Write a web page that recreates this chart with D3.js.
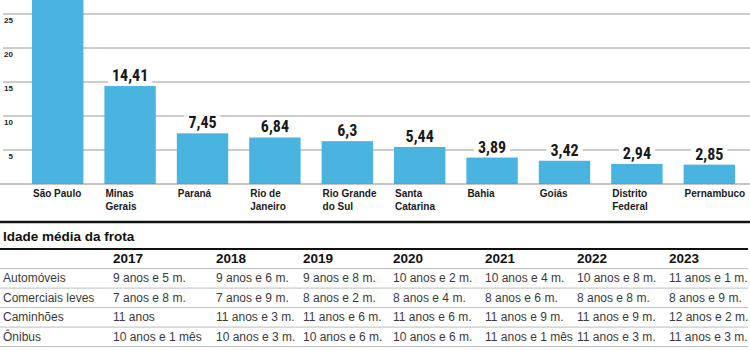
<!DOCTYPE html>
<html>
<head>
<meta charset="utf-8">
<script src="https://cdn.jsdelivr.net/npm/d3@7"></script>
<style>
  html, body { margin: 0; padding: 0; background: #fff; }
  svg { display: block; }
</style>
</head>
<body>
<svg id="chart" width="750" height="350"></svg>
<script>
// ---- Data ----
const states = ["São Paulo", "Minas Gerais", "Paraná", "Rio de Janeiro", "Rio Grande do Sul",
                "Santa Catarina", "Bahia", "Goiás", "Distrito Federal", "Pernambuco"];
const stateLines = [["São Paulo"], ["Minas", "Gerais"], ["Paraná"], ["Rio de", "Janeiro"],
                    ["Rio Grande", "do Sul"], ["Santa", "Catarina"], ["Bahia"], ["Goiás"],
                    ["Distrito", "Federal"], ["Pernambuco"]];
const fleet = [30.4, 14.41, 7.45, 6.84, 6.3, 5.44, 3.89, 3.42, 2.94, 2.85];
const fleetLabels = ["30,4", "14,41", "7,45", "6,84", "6,3", "5,44", "3,89", "3,42", "2,94", "2,85"];
const yTicks = [5, 10, 15, 20, 25];

const tableTitle = "Idade média da frota";
const years = ["2017", "2018", "2019", "2020", "2021", "2022", "2023"];
const vehicleTypes = ["Automóveis", "Comerciais leves", "Caminhões", "Ônibus"];
const ageAutomoveis = ["9 anos e 5 m.", "9 anos e 6 m.", "9 anos e 8 m.", "10 anos e 2 m.", "10 anos e 4 m.", "10 anos e 8 m.", "11 anos e 1 m."];
const ageComerciais = ["7 anos e 8 m.", "7 anos e 9 m.", "8 anos e 2 m.", "8 anos e 4 m.", "8 anos e 6 m.", "8 anos e 8 m.", "8 anos e 9 m."];
const ageCaminhoes = ["11 anos", "11 anos e 3 m.", "11 anos e 6 m.", "11 anos e 6 m.", "11 anos e 9 m.", "11 anos e 9 m.", "12 anos e 2 m."];
const ageOnibus = ["10 anos e 1 mês", "10 anos e 3 m.", "10 anos e 6 m.", "10 anos e 6 m.", "11 anos e 1 mês", "11 anos e 3 m.", "11 anos e 3 m."];
const ageRows = [ageAutomoveis, ageComerciais, ageCaminhoes, ageOnibus];

// ---- Layout ----
const W = 750;
const colX = [113, 216, 303, 393, 485, 577, 669];
const barColor = "#4ab4e1";
const fontMain = "'Liberation Sans', Arial, sans-serif";
const fontNarrow = "'Liberation Sans Narrow', 'Roboto Condensed', 'DejaVu Sans Condensed', 'Liberation Sans', sans-serif";

const svg = d3.select("#chart");

const x = d3.scaleBand().domain(states).range([32, 735]).paddingInner(0.29).paddingOuter(0);
const y = d3.scaleLinear().domain([0, 25]).range([184, 14]);

// gridlines
const grid = svg.append("g");
grid.selectAll("line").data(yTicks).join("line")
  .attr("x1", 3).attr("x2", W)
  .attr("y1", d => y(d)).attr("y2", d => y(d))
  .attr("stroke", "#9a9a9a").attr("stroke-width", 1);
grid.selectAll("text").data(yTicks).join("text")
  .attr("x", 13).attr("y", d => y(d) + 8.6)
  .attr("text-anchor", "end")
  .attr("font-family", fontMain).attr("font-weight", "bold").attr("font-size", 8)
  .attr("fill", "#222")
  .text(d => d);

// bars
svg.append("g").selectAll("rect").data(fleet).join("rect")
  .attr("x", (d, i) => x(states[i]))
  .attr("y", d => y(d))
  .attr("width", x.bandwidth())
  .attr("height", d => y(0) - y(d))
  .attr("fill", barColor);

// baseline
svg.append("line").attr("x1", 0).attr("x2", W).attr("y1", y(0)).attr("y2", y(0))
  .attr("stroke", "#8a8a8a").attr("stroke-width", 1.2);

// value labels with white backgrounds (only for bars whose top is inside the chart)
const visible = fleet.map((d, i) => ({ v: d, i })).filter(o => y(o.v) - 20 > 0);
const vl = svg.append("g").selectAll("g").data(visible).join("g")
  .attr("transform", o => `translate(${x(states[o.i]) + x.bandwidth() / 2},${y(o.v) - 5})`);
vl.append("text")
  .attr("text-anchor", "middle")
  .attr("font-family", fontNarrow).attr("font-weight", "bold").attr("font-size", 16)
  .attr("fill", "#1a1a1a")
  .text(o => fleetLabels[o.i]);
vl.each(function () {
  const g = d3.select(this);
  const bb = g.select("text").node().getBBox();
  g.insert("rect", "text")
    .attr("x", bb.x - 4).attr("y", bb.y + 2)
    .attr("width", bb.width + 8).attr("height", bb.height - 3)
    .attr("fill", "#fff");
});

// category labels
const cl = svg.append("g").selectAll("text").data(states).join("text")
  .attr("x", d => x(d) + 1)
  .attr("y", 197)
  .attr("font-family", fontMain).attr("font-weight", "bold").attr("font-size", 10)
  .attr("fill", "#1a1a1a");
cl.selectAll("tspan").data((d, i) => stateLines[i]).join("tspan")
  .attr("x", function () { return d3.select(this.parentNode).attr("x"); })
  .attr("dy", (d, j) => j === 0 ? 0 : 12.5)
  .text(d => d);

// ---- Table ----
const t = svg.append("g");
t.append("line").attr("x1", 0).attr("x2", W).attr("y1", 222).attr("y2", 222)
  .attr("stroke", "#111").attr("stroke-width", 2.5);
t.append("text").attr("x", 3).attr("y", 241)
  .attr("font-family", fontMain).attr("font-weight", "bold").attr("font-size", 13.5)
  .attr("fill", "#111").text(tableTitle);
t.append("line").attr("x1", 0).attr("x2", W - 2).attr("y1", 249).attr("y2", 249)
  .attr("stroke", "#111").attr("stroke-width", 2);

// header
t.selectAll("text.yr").data(years).join("text").attr("class", "yr")
  .attr("x", (d, i) => colX[i]).attr("y", 262.5)
  .attr("font-family", fontMain).attr("font-weight", "bold").attr("font-size", 13.5)
  .attr("fill", "#111").text(d => d);

const rowY = d3.scaleLinear().domain([0, 1]).range([287.6, 307.1]); // row separator lines
const sepIdx = [-1, 0, 1, 2, 3];
t.selectAll("line.sep").data(sepIdx).join("line").attr("class", "sep")
  .attr("x1", 0).attr("x2", W - 2)
  .attr("y1", d => rowY(d) + 0.5).attr("y2", d => rowY(d) + 0.5)
  .attr("stroke", "#bdbdbd").attr("stroke-width", 1);

const rows = t.selectAll("g.row").data(vehicleTypes).join("g").attr("class", "row")
  .attr("transform", (d, i) => `translate(0,${rowY(i) - 5.5})`);
rows.append("text").attr("x", 3)
  .attr("font-family", fontMain).attr("font-size", 12).attr("fill", "#3a3a3a")
  .text(d => d);
rows.each(function (d, i) {
  d3.select(this).selectAll("text.cell").data(ageRows[i]).join("text").attr("class", "cell")
    .attr("x", (v, j) => colX[j])
    .attr("font-family", fontMain).attr("font-size", 12).attr("fill", "#3a3a3a")
    .text(v => v);
});
</script>
</body>
</html>
